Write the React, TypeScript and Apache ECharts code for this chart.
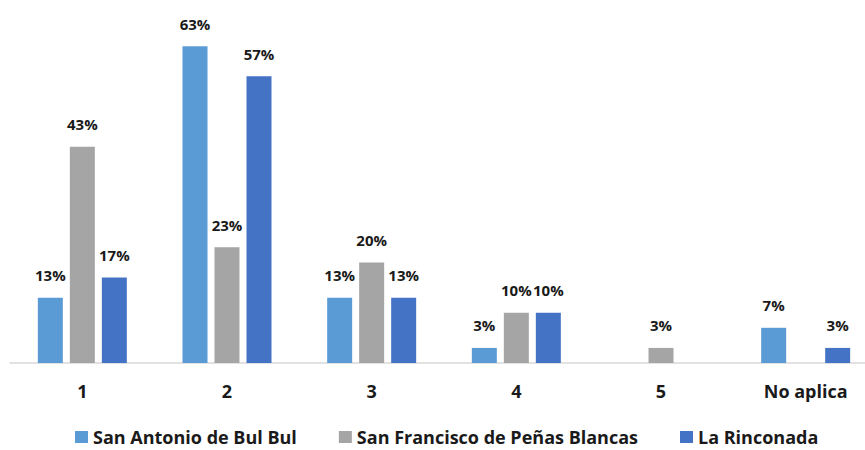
import React, { useEffect, useRef } from "react";
import * as echarts from "echarts";

const categories = ["1", "2", "3", "4", "5", "No aplica"];
const seriesNames = ["San Antonio de Bul Bul", "San Francisco de Peñas Blancas", "La Rinconada"];
const sanAntonio = [13, 63, 13, 3, 0, 7];
const sanFrancisco = [43, 23, 20, 10, 3, 0];
const laRinconada = [17, 57, 13, 10, 0, 3];
const colors = ["#5B9BD5", "#A5A5A5", "#4472C4"];

export default function App() {
  const ref = useRef<HTMLDivElement>(null);
  useEffect(() => {
    const chart = echarts.init(ref.current!, null, { renderer: "svg" });
    const font = "Open Sans";
    const values = [sanAntonio, sanFrancisco, laRinconada];
    chart.setOption({
      animation: false,
      textStyle: { fontFamily: font },
      grid: { left: 10, top: 11, width: 868, height: 352, containLabel: false },
      legend: {
        top: 422,
        left: 70,
        icon: "rect",
        itemWidth: 13,
        itemHeight: 12,
        itemGap: 42,
        itemStyle: { borderWidth: 0 },
        textStyle: { fontSize: 18, lineHeight: 20, fontWeight: "bold", color: "#1a1a1a", fontFamily: font },
        data: seriesNames,
      },
      xAxis: {
        type: "category",
        data: categories,
        axisLine: { lineStyle: { color: "#D9D9D9", width: 1.5 } },
        axisTick: { show: false },
        axisLabel: { fontSize: 18, fontWeight: "bold", color: "#1a1a1a", margin: 19, fontFamily: font },
      },
      yAxis: { type: "value", min: 0, max: 70, show: false, splitLine: { show: false } },
      series: seriesNames.map((name, i) => ({
        name,
        type: "bar",
        data: values[i],
        barWidth: 25,
        barGap: "28%",
        itemStyle: { color: colors[i] },
        label: {
          show: true,
          position: "top",
          distance: 15,
          fontSize: 15,
          fontWeight: "bold",
          color: "#1a1a1a",
          fontFamily: font,
          formatter: (p: any) => (p.value ? p.value + "%" : ""),
        },
      })),
    });
    return () => chart.dispose();
  }, []);
  return (
    <div style={{ width: 865, height: 450, position: "absolute", left: 0, top: 0, overflow: "hidden" }}>
      <div ref={ref} style={{ width: 880, height: 450 }} />
    </div>
  );
}
